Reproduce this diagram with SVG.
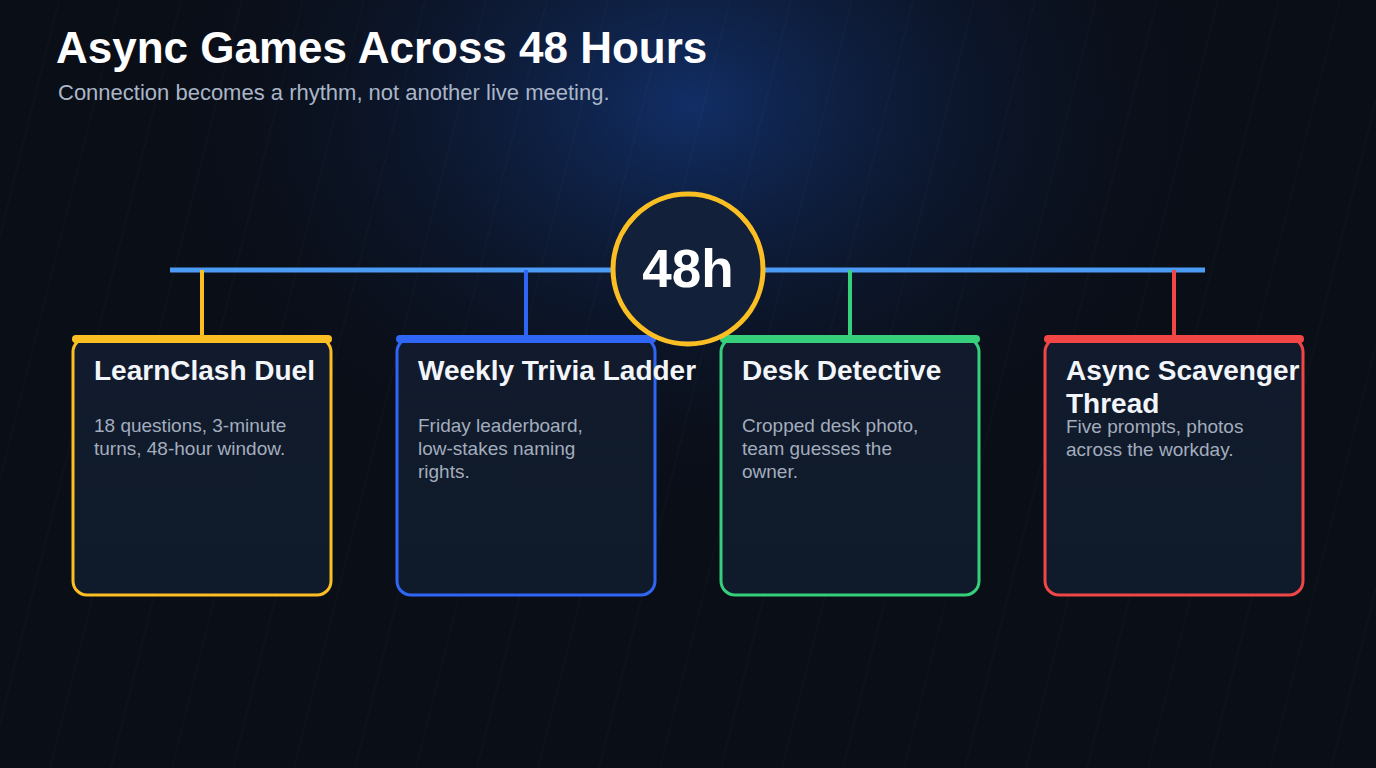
<svg xmlns="http://www.w3.org/2000/svg" width="1376" height="768" viewBox="0 0 1376 768">
  <defs>
    <radialGradient id="glow" cx="690" cy="105" r="560" gradientUnits="userSpaceOnUse" gradientTransform="translate(690 105) scale(1 0.75) translate(-690 -105)">
      <stop offset="0" stop-color="#12306a" stop-opacity="0.95"/>
      <stop offset="0.4" stop-color="#0f2248" stop-opacity="0.6"/>
      <stop offset="1" stop-color="#0a0e17" stop-opacity="0"/>
    </radialGradient>
    <linearGradient id="cardFill" x1="0" y1="0" x2="0" y2="1">
      <stop offset="0" stop-color="#111b2d"/>
      <stop offset="1" stop-color="#0f1a2a"/>
    </linearGradient>
  </defs>
  <style>
    .title { font-family: "Liberation Sans", Arial, sans-serif; font-weight: bold; font-size: 44px; fill: #ffffff; }
    .subtitle { font-family: "Liberation Sans", Arial, sans-serif; font-size: 22px; fill: #aab6c8; }
    .card { fill: url(#cardFill); stroke-width: 3; }
    .ctitle { font-family: "Liberation Sans", Arial, sans-serif; font-weight: bold; font-size: 28px; fill: #f2f5fa; }
    .cbody { font-family: "Liberation Sans", Arial, sans-serif; font-size: 19px; fill: #a3adbd; }
    .hub { font-family: "Liberation Sans", Arial, sans-serif; font-weight: bold; font-size: 53px; fill: #ffffff; }
    .diag { stroke: #ffffff; stroke-opacity: 0.028; stroke-width: 1.2; }
  </style>

  <rect width="1376" height="768" fill="#0a0e17"/>
  <rect width="1376" height="768" fill="url(#glow)"/>

  <g id="background-lines">
    <line class="diag" x1="-194" y1="768" x2="-2" y2="0"/>
    <line class="diag" x1="-133" y1="768" x2="59" y2="0"/>
    <line class="diag" x1="-72" y1="768" x2="120" y2="0"/>
    <line class="diag" x1="-11" y1="768" x2="181" y2="0"/>
    <line class="diag" x1="50" y1="768" x2="242" y2="0"/>
    <line class="diag" x1="111" y1="768" x2="303" y2="0"/>
    <line class="diag" x1="172" y1="768" x2="364" y2="0"/>
    <line class="diag" x1="233" y1="768" x2="425" y2="0"/>
    <line class="diag" x1="294" y1="768" x2="486" y2="0"/>
    <line class="diag" x1="355" y1="768" x2="547" y2="0"/>
    <line class="diag" x1="416" y1="768" x2="608" y2="0"/>
    <line class="diag" x1="477" y1="768" x2="669" y2="0"/>
    <line class="diag" x1="538" y1="768" x2="730" y2="0"/>
    <line class="diag" x1="599" y1="768" x2="791" y2="0"/>
    <line class="diag" x1="660" y1="768" x2="852" y2="0"/>
    <line class="diag" x1="721" y1="768" x2="913" y2="0"/>
    <line class="diag" x1="782" y1="768" x2="974" y2="0"/>
    <line class="diag" x1="843" y1="768" x2="1035" y2="0"/>
    <line class="diag" x1="904" y1="768" x2="1096" y2="0"/>
    <line class="diag" x1="965" y1="768" x2="1157" y2="0"/>
    <line class="diag" x1="1026" y1="768" x2="1218" y2="0"/>
    <line class="diag" x1="1087" y1="768" x2="1279" y2="0"/>
    <line class="diag" x1="1148" y1="768" x2="1340" y2="0"/>
    <line class="diag" x1="1209" y1="768" x2="1401" y2="0"/>
    <line class="diag" x1="1270" y1="768" x2="1462" y2="0"/>
    <line class="diag" x1="1331" y1="768" x2="1523" y2="0"/>
  </g>

  <g id="header">
    <text class="title" x="56" y="63">Async Games Across 48 Hours</text>
    <text class="subtitle" x="58" y="100">Connection becomes a rhythm, not another live meeting.</text>
  </g>

  <g id="connectors">
    <line x1="170" y1="270" x2="1205" y2="270" stroke="#4c9cf5" stroke-width="5"/>
    <line x1="202" y1="270" x2="202" y2="336" stroke="#fbbf24" stroke-width="4"/>
    <line x1="526" y1="270" x2="526" y2="336" stroke="#2f66f5" stroke-width="4"/>
    <line x1="850" y1="270" x2="850" y2="336" stroke="#36cf7c" stroke-width="4"/>
    <line x1="1174" y1="270" x2="1174" y2="336" stroke="#f04646" stroke-width="4"/>
  </g>

  <g id="card-learnclash">
    <rect class="card" x="73" y="338" width="258" height="257" rx="14" stroke="#fbbf24"/>
    <rect x="72" y="335" width="260" height="8" rx="4" fill="#fbbf24"/>
    <text class="ctitle" x="94" y="380">LearnClash Duel</text>
    <text class="cbody" x="94" y="432">18 questions, 3-minute</text>
    <text class="cbody" x="94" y="455">turns, 48-hour window.</text>
  </g>

  <g id="card-trivia">
    <rect class="card" x="397" y="338" width="258" height="257" rx="14" stroke="#2f66f5"/>
    <rect x="396" y="335" width="260" height="8" rx="4" fill="#2f66f5"/>
    <text class="ctitle" x="418" y="380">Weekly Trivia Ladder</text>
    <text class="cbody" x="418" y="432">Friday leaderboard,</text>
    <text class="cbody" x="418" y="455">low-stakes naming</text>
    <text class="cbody" x="418" y="478">rights.</text>
  </g>

  <g id="card-desk">
    <rect class="card" x="721" y="338" width="258" height="257" rx="14" stroke="#36cf7c"/>
    <rect x="720" y="335" width="260" height="8" rx="4" fill="#36cf7c"/>
    <text class="ctitle" x="742" y="380">Desk Detective</text>
    <text class="cbody" x="742" y="432">Cropped desk photo,</text>
    <text class="cbody" x="742" y="455">team guesses the</text>
    <text class="cbody" x="742" y="478">owner.</text>
  </g>

  <g id="card-scavenger">
    <rect class="card" x="1045" y="338" width="258" height="257" rx="14" stroke="#f04646"/>
    <rect x="1044" y="335" width="260" height="8" rx="4" fill="#f04646"/>
    <text class="ctitle" x="1066" y="380">Async Scavenger</text>
    <text class="ctitle" x="1066" y="413">Thread</text>
    <text class="cbody" x="1066" y="433">Five prompts, photos</text>
    <text class="cbody" x="1066" y="456">across the workday.</text>
  </g>

  <g id="hub">
    <circle cx="688" cy="269" r="75" fill="#13203a" stroke="#fbbf24" stroke-width="5"/>
    <text class="hub" x="688" y="287" text-anchor="middle">48h</text>
  </g>
</svg>
